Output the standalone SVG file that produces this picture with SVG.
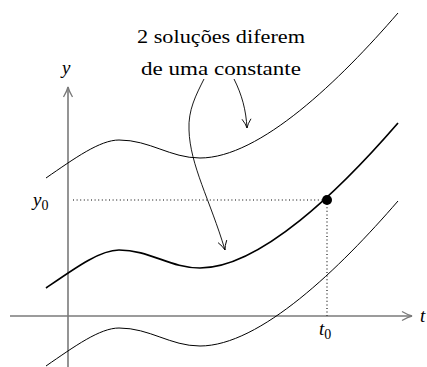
<svg xmlns="http://www.w3.org/2000/svg" width="427" height="367" viewBox="0 0 427 367">
<style>
.lbl{font-family:"Liberation Serif","DejaVu Serif",serif;font-size:18px;fill:#000}
.it{font-family:"Liberation Serif","DejaVu Serif",serif;font-style:italic;font-size:19px;fill:#000}
.sub{font-family:"Liberation Serif","DejaVu Serif",serif;font-size:14px;fill:#000}
.sol{fill:none;stroke:#000;stroke-width:1}
.axis{fill:none;stroke:#7a7a7a;stroke-width:1.6}
.dot{fill:none;stroke:#000;stroke-width:1.1;stroke-dasharray:1 2.6}
.ann{fill:none;stroke:#000;stroke-width:0.9}
</style>
<defs>
<marker id="ah" markerWidth="12" markerHeight="12" refX="10" refY="6" orient="auto" markerUnits="userSpaceOnUse">
<path d="M1,1.5 Q6,5 10,6 Q6,7 1,10.5" fill="none" stroke="#000" stroke-width="0.9"/>
</marker>
<marker id="axh" markerWidth="14" markerHeight="14" refX="11" refY="7" orient="auto" markerUnits="userSpaceOnUse">
<path d="M1,2.5 Q7,6 11,7 Q7,8 1,11.5" fill="none" stroke="#7a7a7a" stroke-width="1.3"/>
</marker>
<path id="curve" d="M46,288 C75,268 100,250 119,250 C150,250 170,268 200,268 C260,268 340,190 398,123"/>
</defs>
<g id="axes">
<line class="axis" x1="68" y1="367" x2="68" y2="87" marker-end="url(#axh)"/>
<line class="axis" x1="10" y1="316" x2="412" y2="316" marker-end="url(#axh)"/>
<text class="it" x="62" y="74">y</text>
<text class="it" x="420" y="322">t</text>
</g>
<g id="guides">
<line class="dot" x1="73" y1="200" x2="327" y2="200"/>
<line class="dot" x1="327" y1="200" x2="327" y2="316"/>
<text x="33" y="206"><tspan class="it">y</tspan><tspan class="sub" dy="4">0</tspan></text>
<text x="319" y="335"><tspan class="it">t</tspan><tspan class="sub" dy="4">0</tspan></text>
</g>
<g id="solution-top"><use href="#curve" class="sol" transform="translate(0,-110)"/></g>
<g id="solution-middle"><use href="#curve" class="sol" style="stroke-width:1.7"/></g>
<g id="solution-bottom"><use href="#curve" class="sol" transform="translate(0,78)"/></g>
<g id="point"><circle cx="327" cy="200" r="5" fill="#000"/></g>
<g id="label">
<text class="lbl" x="221" y="43" text-anchor="middle" textLength="168" lengthAdjust="spacingAndGlyphs">2 soluções diferem</text>
<text class="lbl" x="221" y="75" text-anchor="middle" textLength="160" lengthAdjust="spacingAndGlyphs">de uma constante</text>
</g>
<g id="connectors">
<path class="ann" d="M204,79 C196,95 188,110 189,130 C190,165 210,200 225,250" marker-end="url(#ah)"/>
<path class="ann" d="M234,79 C242,95 246,110 247,128" marker-end="url(#ah)"/>
</g>
</svg>
